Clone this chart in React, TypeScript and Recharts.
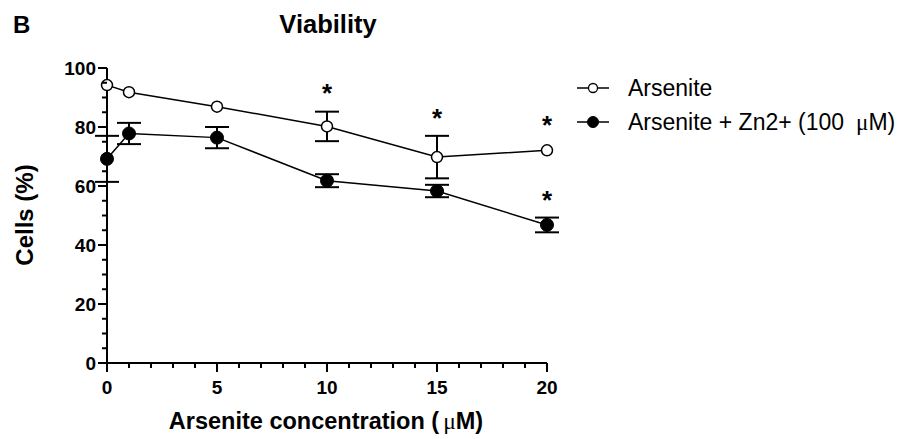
import React from 'react';
import {
  ComposedChart,
  Line,
  Scatter,
  XAxis,
  YAxis,
  ErrorBar,
  Legend,
  Customized,
} from 'recharts';

// Arsenite concentration (µM)
const doses = [0, 1, 5, 10, 15, 20];
// Viability (% cells), arsenite alone
const arseniteMean = [94.2, 91.8, 86.9, 80.2, 69.8, 72.1];
const arseniteSem = [0, 0, 0, 5.0, 7.2, 0];
// Viability (% cells), arsenite + Zn2+ (100 µM)
const zincMean = [69.2, 77.8, 76.4, 61.8, 58.3, 46.8];
const zincSem = [7.8, 3.6, 3.6, 2.2, 2.1, 2.5];
// Significance markers
const starDoses = [10, 15, 20, 20];
const starLevels = [93.6, 85.1, 82.8, 57.4];

const xTicks = [0, 1, 2, 3, 4, 5, 6, 7, 8, 9, 10, 11, 12, 13, 14, 15, 16, 17, 18, 19, 20];
const xLabelTicks = [0, 5, 10, 15, 20];
const yTicks = [0, 5, 10, 15, 20, 25, 30, 35, 40, 45, 50, 55, 60, 65, 70, 75, 80, 85, 90, 95, 100];
const yLabelTicks = [0, 20, 40, 60, 80, 100];

const seriesNames = ['Arsenite', 'Arsenite + Zn2+ (100'];

const FONT = '"Liberation Sans", Arial, Helvetica, sans-serif';
const SERIF = '"Liberation Serif", "Times New Roman", serif';

const rows = doses.map((x, i) => ({
  x,
  ars: arseniteMean[i],
  arsErr: arseniteSem[i],
  zn: zincMean[i],
  znErr: zincSem[i],
}));

const stars = starDoses.map((x, i) => ({ x, y: starLevels[i] }));

const XTick = (props: any) => {
  const { x, y, payload } = props;
  const major = xLabelTicks.includes(payload.value);
  return (
    <g>
      <line x1={x} x2={x} y1={y} y2={y + (major ? 9 : 5)} stroke="#000" strokeWidth={2} />
      {major && (
        <text
          x={x}
          y={y + 31}
          textAnchor="middle"
          fontFamily={FONT}
          fontWeight="bold"
          fontSize={19}
          fill="#000"
        >
          {payload.value}
        </text>
      )}
    </g>
  );
};

const YTick = (props: any) => {
  const { x, y, payload } = props;
  const major = yLabelTicks.includes(payload.value);
  return (
    <g>
      <line x1={x} x2={x - (major ? 9 : 5)} y1={y} y2={y} stroke="#000" strokeWidth={2} />
      {major && (
        <text
          x={x - 11}
          y={y + 7}
          textAnchor="end"
          fontFamily={FONT}
          fontWeight="bold"
          fontSize={19}
          fill="#000"
        >
          {payload.value}
        </text>
      )}
    </g>
  );
};

const StarShape = (props: any) => {
  const { cx, cy } = props;
  return (
    <text x={cx} y={cy + 15} textAnchor="middle" fontFamily={FONT} fontWeight="bold" fontSize={26} fill="#000">
      *
    </text>
  );
};

const LegendContent = () => (
  <svg width={332} height={70} style={{ display: 'block' }}>
    <g>
      <line x1={2} x2={34} y1={17} y2={17} stroke="#000" strokeWidth={1.5} />
      <circle cx={18} cy={17} r={4.5} fill="#fff" stroke="#000" strokeWidth={1.3} />
      <text x={53} y={25} fontFamily={FONT} fontSize={23} fill="#000">
        {seriesNames[0]}
      </text>
    </g>
    <g>
      <line x1={2} x2={34} y1={51} y2={51} stroke="#000" strokeWidth={1.5} />
      <circle cx={18} cy={51} r={5.5} fill="#000" stroke="#000" strokeWidth={1} />
      <text x={53} y={59} fontFamily={FONT} fontSize={23} fill="#000">
        {seriesNames[1]}
        <tspan dx={12} fontFamily={SERIF}>μ</tspan>
        <tspan>M)</tspan>
      </text>
    </g>
  </svg>
);

const Annotations = () => (
  <g>
    <text x={13} y={33} fontFamily={FONT} fontWeight="bold" fontSize={24} fill="#000">
      B
    </text>
    <text x={328} y={33} textAnchor="middle" fontFamily={FONT} fontWeight="bold" fontSize={25.5} fill="#000">
      Viability
    </text>
    <text
      x={0}
      y={0}
      transform="translate(33,215) rotate(-90)"
      textAnchor="middle"
      fontFamily={FONT}
      fontWeight="bold"
      fontSize={24}
      fill="#000"
    >
      Cells (%)
    </text>
    <text x={326} y={429} textAnchor="middle" fontFamily={FONT} fontWeight="bold" fontSize={23.5} fill="#000">
      Arsenite concentration (
      <tspan dx={4} fontFamily={SERIF} fontWeight="normal">μ</tspan>
      <tspan>M)</tspan>
    </text>
  </g>
);

export default function App() {
  return (
    <div style={{ position: 'absolute', left: 0, top: 0, width: 907, height: 439, background: '#fff' }}>
      <ComposedChart
        width={907}
        height={439}
        data={rows}
        margin={{ top: 68, right: 360, bottom: 0, left: 0 }}
      >
        <XAxis
          dataKey="x"
          type="number"
          domain={[0, 20]}
          ticks={xTicks}
          interval={0}
          height={76}
          tickSize={0}
          tickMargin={0}
          tickLine={false}
          tick={<XTick />}
          axisLine={{ stroke: '#000', strokeWidth: 2 }}
        />
        <YAxis
          type="number"
          domain={[0, 100]}
          ticks={yTicks}
          interval={0}
          width={107}
          tickSize={0}
          tickMargin={0}
          tickLine={false}
          tick={<YTick />}
          axisLine={{ stroke: '#000', strokeWidth: 2 }}
        />
        <Line
          dataKey="ars"
          name="Arsenite"
          stroke="#000"
          strokeWidth={1.5}
          dot={{ r: 5.5, fill: '#fff', stroke: '#000', strokeWidth: 1.5 }}
          isAnimationActive={false}
        >
          <ErrorBar dataKey="arsErr" width={12} stroke="#000" strokeWidth={2} direction="y" />
        </Line>
        <Line
          dataKey="zn"
          name="Arsenite + Zn2+ (100 μM)"
          stroke="#000"
          strokeWidth={1.5}
          dot={{ r: 6.5, fill: '#000', stroke: '#000', strokeWidth: 1 }}
          isAnimationActive={false}
        >
          <ErrorBar dataKey="znErr" width={12} stroke="#000" strokeWidth={2} direction="y" />
        </Line>
        <Scatter data={stars} dataKey="y" shape={<StarShape />} legendType="none" isAnimationActive={false} />
        <Legend
          layout="vertical"
          align="center"
          verticalAlign="middle"
          wrapperStyle={{ left: 575, top: 71, width: 332, height: 70 }}
          content={<LegendContent />}
        />
        <Customized component={<Annotations />} />
      </ComposedChart>
    </div>
  );
}
